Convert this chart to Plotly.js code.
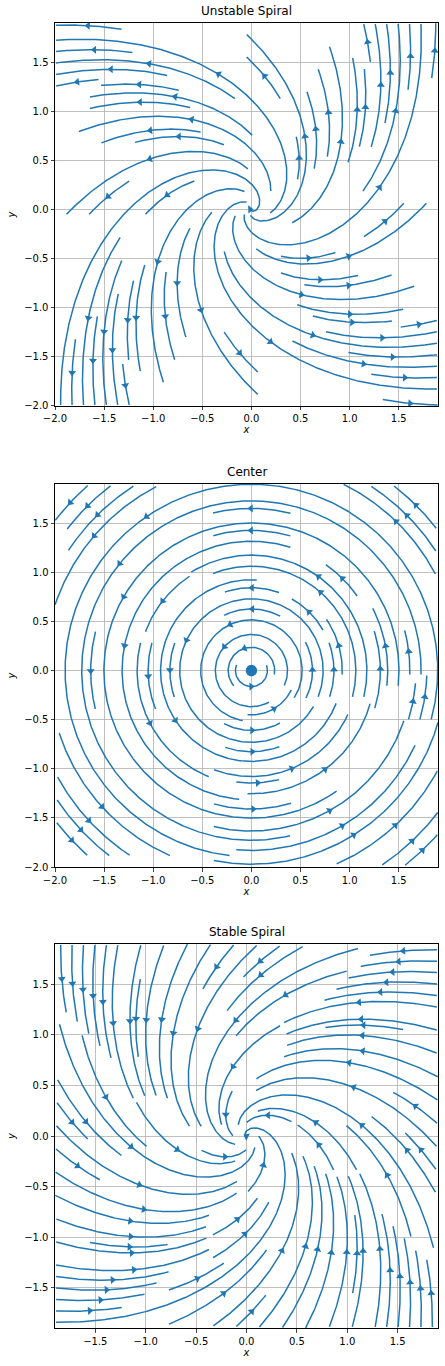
<!DOCTYPE html>
<html>
<head>
<meta charset="utf-8">
<script src="https://cdn.plot.ly/plotly-3.0.1.min.js"></script>
<style>body{margin:0;background:#fff}</style>
</head>
<body>
<div id="graph" style="width:445px;height:1366px"></div>
<script>
// linear systems dx/dt = a*x + b*y, dy/dt = c*x + d*y
const titles = ["Unstable Spiral", "Center", "Stable Spiral"];
const matA = [1, 0, -1];
const matB = [-1, -1, -1];
const matC = [1, 1, 1];
const matD = [1, 0, -1];
const xRanges = [[-2, 1.9], [-2, 1.9], [-1.9, 1.9]];
const yRanges = [[-2, 1.9], [-2, 1.9], [-1.9, 1.9]];
const xTicks = [-2, -1.5, -1, -0.5, 0, 0.5, 1, 1.5];
const yTicks = [-2, -1.5, -1, -0.5, 0, 0.5, 1, 1.5];
const yDomains = [[0.7028, 0.9832], [0.3653, 0.6457], [0.0278, 0.3089]];
const xDomain = [0.1236, 0.9843];
const color = "#1f77b4";
const N = 34;

function streams(k) {
  const [x0, x1] = xRanges[k], [y0, y1] = yRanges[k];
  const a = matA[k], b = matB[k], c = matC[k], d = matD[k];
  const mask = new Int32Array(N * N).fill(-1);
  const cell = (x, y) => {
    const i = Math.floor((x - x0) / (x1 - x0) * N), j = Math.floor((y - y0) / (y1 - y0) * N);
    if (i < 0 || j < 0 || i >= N || j >= N) return -1;
    return j * N + i;
  };
  const vel = (x, y, s) => {
    let u = (a * x + b * y) / (x1 - x0), v = (c * x + d * y) / (y1 - y0);
    const m = Math.hypot(u, v);
    if (m < 1e-6) return null;
    return [s * u / m * (x1 - x0), s * v / m * (y1 - y0)];
  };
  const lines = [];
  // spiral order of seeds from the border inward
  const order = [];
  let l = 0, r = N - 1, t = 0, bt = N - 1;
  while (l <= r && t <= bt) {
    for (let i = l; i <= r; i++) order.push([i, t]);
    for (let j = t + 1; j <= bt; j++) order.push([r, j]);
    if (t < bt) for (let i = r - 1; i >= l; i--) order.push([i, bt]);
    if (l < r) for (let j = bt - 1; j > t; j--) order.push([l, j]);
    l++; r--; t++; bt--;
  }
  let id = 0;
  for (const [i, j] of order) {
    if (mask[j * N + i] >= 0) continue;
    id++;
    const sx = x0 + (i + 0.5) / N * (x1 - x0), sy = y0 + (j + 0.5) / N * (y1 - y0);
    const trace = (s) => {
      const pts = [];
      let x = sx, y = sy;
      const h = 0.004;
      for (let n = 0; n < 4000; n++) {
        const ci = cell(x, y);
        if (ci < 0) break;
        if (mask[ci] >= 0 && mask[ci] !== id) break;
        mask[ci] = id;
        pts.push([x, y]);
        const k1 = vel(x, y, s);
        if (!k1) break;
        const k2 = vel(x + k1[0] * h / 2, y + k1[1] * h / 2, s);
        if (!k2) break;
        x += k2[0] * h; y += k2[1] * h;
      }
      return pts;
    };
    const fw = trace(1), bw = trace(-1);
    const pts = bw.reverse().concat(fw.slice(1));
    if (pts.length < 25) continue;
    lines.push(pts);
  }
  return lines;
}

const data = [];
const layout = {
  width: 445, height: 1366, showlegend: false,
  margin: {l: 0, r: 0, t: 0, b: 0},
  paper_bgcolor: "#fff", plot_bgcolor: "#fff",
  font: {family: "DejaVu Sans", size: 10, color: "#000"},
  annotations: []
};
for (let k = 0; k < 3; k++) {
  const sx = k === 0 ? "" : String(k + 1);
  const lines = streams(k);
  const X = [], Y = [], ax = [], ay = [], ang = [];
  for (const p of lines) {
    for (const q of p) { X.push(q[0]); Y.push(q[1]); }
    X.push(null); Y.push(null);
    const m = Math.floor(p.length / 2);
    const dx = p[m + 1][0] - p[m][0], dy = p[m + 1][1] - p[m][1];
    ax.push(p[m][0]); ay.push(p[m][1]);
    ang.push(Math.atan2(dx, dy) * 180 / Math.PI);
  }
  data.push({type: "scatter", mode: "lines", x: X, y: Y, xaxis: "x" + sx, yaxis: "y" + sx,
    line: {color: color, width: 1.5}, hoverinfo: "skip"});
  data.push({type: "scatter", mode: "markers", x: ax, y: ay, xaxis: "x" + sx, yaxis: "y" + sx,
    marker: {symbol: "triangle-up", size: 7, color: color, angle: ang}, hoverinfo: "skip"});
  const axStyle = {showgrid: true, gridcolor: "#b0b0b0", gridwidth: 0.8, zeroline: false,
    showline: true, mirror: true, linecolor: "#000", ticks: "outside", ticklen: 3.5,
    tickfont: {size: 10}, tickformat: ".1f"};
  layout["xaxis" + sx] = Object.assign({}, axStyle, {domain: xDomain, range: xRanges[k],
    tickvals: xTicks, anchor: "y" + sx,
    title: {text: "<i>x</i>", standoff: 2, font: {size: 10}}});
  layout["yaxis" + sx] = Object.assign({}, axStyle, {domain: yDomains[k], range: yRanges[k],
    tickvals: yTicks, anchor: "x" + sx,
    title: {text: "<i>y</i>", standoff: 6, font: {size: 10}}});
  layout.annotations.push({text: titles[k], xref: "paper", yref: "paper",
    x: (xDomain[0] + xDomain[1]) / 2, y: yDomains[k][1], yanchor: "bottom", yshift: 3,
    showarrow: false, font: {size: 12}});
}
Plotly.newPlot("graph", data, layout, {staticPlot: true});
</script>
</body>
</html>
